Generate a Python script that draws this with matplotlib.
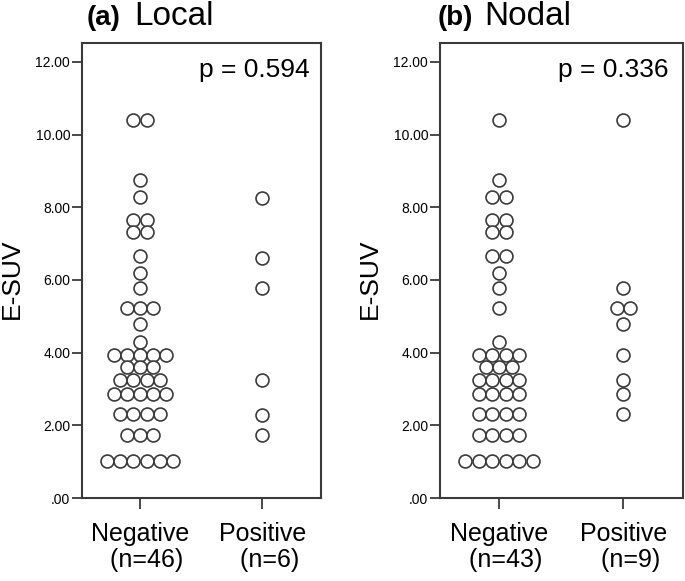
import matplotlib
matplotlib.use("Agg")
import matplotlib.pyplot as plt
import numpy as np
from collections import Counter

plt.rcParams['font.family'] = ['Liberation Sans', 'DejaVu Sans']

categories = ["Negative\n  (n=46)", "Positive\n  (n=6)"]
categories_b = ["Negative\n  (n=43)", "Positive\n  (n=9)"]
yticks = [0, 2, 4, 6, 8, 10, 12]
ytick_labels = [".00", "2.00", "4.00", "6.00", "8.00", "10.00", "12.00"]

local_neg = [10.4]*2 + [8.75, 8.28] + [7.65]*2 + [7.32]*2 + [6.65, 6.19, 5.78] + [5.23]*3 + \
            [4.79, 4.29] + [3.94]*5 + [3.61]*3 + [3.25]*4 + [2.86]*5 + [2.31]*4 + [1.73]*3 + [1.02]*6
local_pos = [8.26, 6.6, 5.78, 3.25, 2.28, 1.73]
nodal_neg = [10.4, 8.75] + [8.28]*2 + [7.65]*2 + [7.32]*2 + [6.65]*2 + [6.19, 5.78, 5.23, 4.29] + \
            [3.94]*4 + [3.61]*3 + [3.25]*4 + [2.86]*4 + [2.31]*4 + [1.73]*4 + [1.02]*6
nodal_pos = [10.4, 5.78] + [5.23]*2 + [4.79, 3.94, 3.25, 2.86, 2.31]

W, H = 685, 581
fig = plt.figure(figsize=(W/100, H/100), dpi=100)

def px_axes(x0, x1, y0, y1):
    return fig.add_axes([x0/W, 1 - y1/H, (x1-x0)/W, (y1-y0)/H])

def ftext(x, y, s, **kw):
    fig.text(x/W, 1 - y/H, s, **kw)

edge = '#3a3a3a'

def draw(ax, groups, labels):
    step = 0.108
    for xi, vals in enumerate(groups):
        cnt = Counter(vals)
        for v, n in cnt.items():
            xs = xi + (np.arange(n) - (n-1)/2) * step
            ax.plot(xs, [v]*n, 'o', ms=9.3, mfc='white', mec=edge, mew=1.2,
                    linestyle='none', zorder=3)
    ax.set_xlim(-0.475, 1.48)
    ax.set_ylim(0, 12.52)
    ax.set_xticks([0, 1])
    ax.set_xticklabels(labels, fontsize=18, linespacing=1.15)
    ax.set_yticks(yticks)
    ax.set_yticklabels(ytick_labels, fontsize=10)
    ax.tick_params(axis='y', length=7, width=1.3, pad=1.5, color=edge)
    ax.tick_params(axis='x', length=8, width=1.3, pad=9, color=edge)
    for s in ax.spines.values():
        s.set_linewidth(1.5)
        s.set_color(edge)

ax1 = px_axes(82, 321, 43, 498)
draw(ax1, [local_neg, local_pos], categories)
ax2 = px_axes(440, 683, 43, 498)
draw(ax2, [nodal_neg, nodal_pos], categories_b)

ftext(310, 77, "p = 0.594", fontsize=19, ha='right', va='baseline')
ftext(668, 77, "p = 0.336", fontsize=19, ha='right', va='baseline')

ftext(12, 279, "E-SUV", fontsize=19, rotation=90, ha='center', va='center')
ftext(370, 279, "E-SUV", fontsize=19, rotation=90, ha='center', va='center')

ftext(87, 25, "(a)", fontsize=20, fontweight='bold', ha='left', va='baseline')
ftext(134, 25, "Local", fontsize=24, ha='left', va='baseline')
ftext(438, 25, "(b)", fontsize=20, fontweight='bold', ha='left', va='baseline')
ftext(484, 25, "Nodal", fontsize=24, ha='left', va='baseline')

fig.savefig("out.png", dpi=100)
